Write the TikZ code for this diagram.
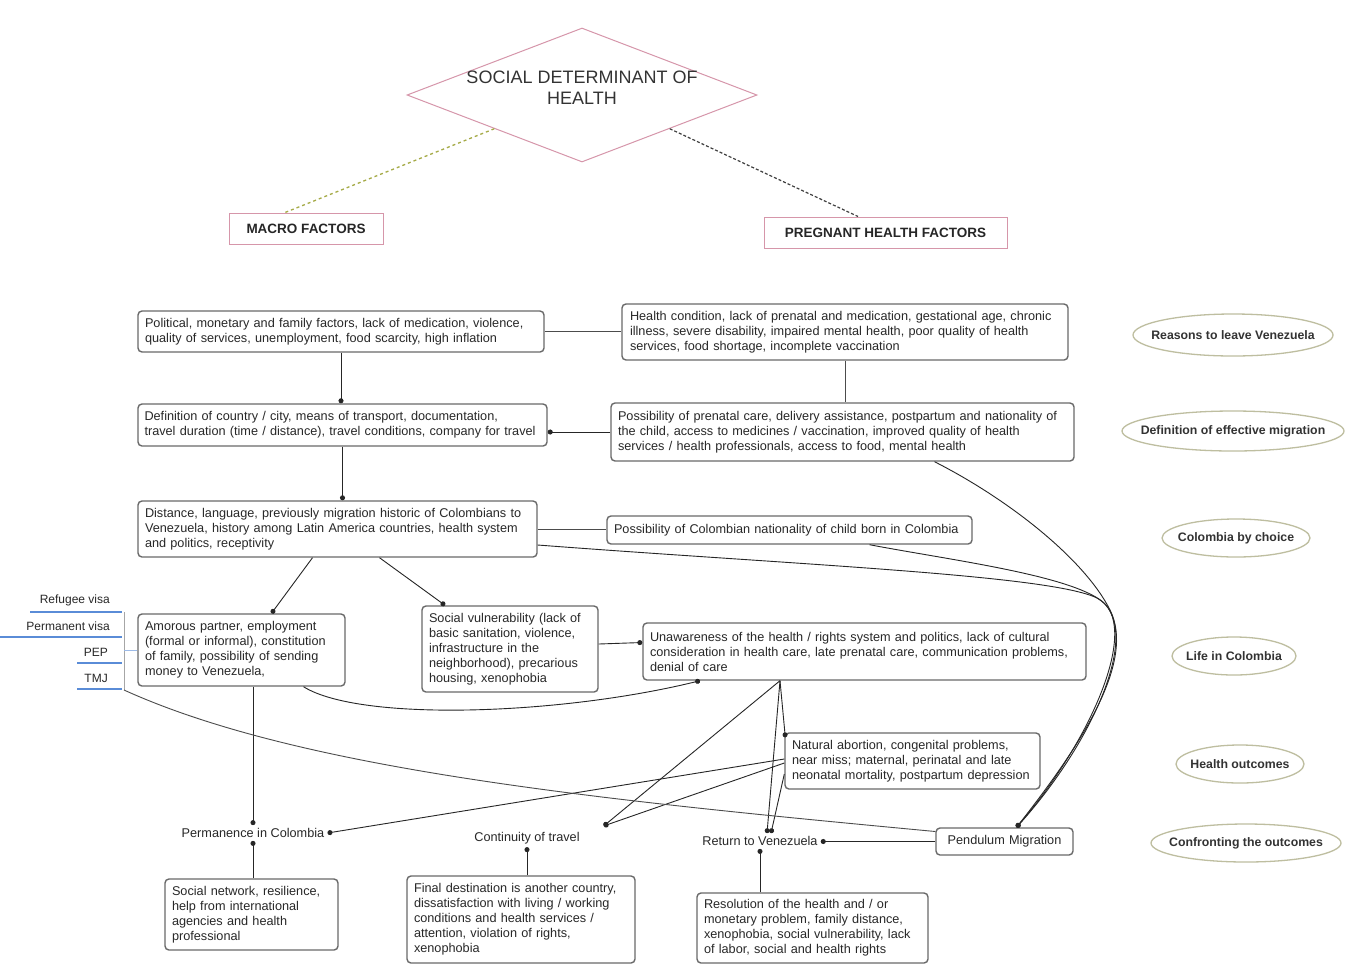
\documentclass[tikz,border=0pt]{standalone}
\usepackage{fontspec}
\setmainfont{Liberation Sans}
\usetikzlibrary{shapes.geometric,arrows.meta}
\definecolor{pinkb}{RGB}{214,150,170}
\definecolor{ellb}{RGB}{190,190,160}
\definecolor{boxb}{RGB}{105,105,105}
\definecolor{txt}{RGB}{40,40,40}
\definecolor{visab}{RGB}{90,140,215}
\definecolor{olivedash}{RGB}{165,170,70}
\begin{document}
\begin{tikzpicture}[x=1pt,y=-1pt,
  every node/.style={text=txt},
  rbox/.style={draw=boxb, line width=1.4pt, rounded corners=4pt, fill=white, align=left, inner sep=0pt, font=\fontsize{12.7}{15}\selectfont},
  hdr/.style={draw=pinkb, line width=1pt, inner sep=0pt, font=\bfseries\fontsize{13.5}{16}\selectfont, text=black!85},
  ell/.style={ellipse, draw=ellb, line width=1.3pt, inner sep=0pt},
  ellt/.style={font=\bfseries\fontsize{12.3}{14}\selectfont, text=black!80},
  outc/.style={font=\fontsize{12.7}{15}\selectfont, inner sep=3pt},
  visat/.style={font=\fontsize{12}{14}\selectfont, anchor=east, inner sep=0pt},
  arr/.style={-{Circle[length=5pt]}, line width=0.9pt, draw=black!85},
  ln/.style={line width=0.9pt, draw=black!70},
  visaline/.style={draw=visab, line width=1.2pt}
]
\fill[white] (0,0) rectangle (1346,967);
\useasboundingbox (0,0) rectangle (1346,967);

% top
\node[diamond, draw=pinkb, line width=1pt, minimum width=350pt, minimum height=134pt, inner sep=0pt, aspect=2.6,
  label={[name=Dt, align=center, font=\fontsize{18}{21}\selectfont, text=black!80, yshift=7pt]center:SOCIAL DETERMINANT OF\\HEALTH}] (D) at (582,95) {};
\node[hdr, minimum width=154pt, minimum height=31pt] (M) at (306,228.5) {MACRO FACTORS};
\node[hdr, minimum width=243pt, minimum height=31pt] (P) at (885.5,232.5) {PREGNANT HEALTH FACTORS};
\draw[olivedash, dashed, line width=1.3pt] (D.south west) -- ([xshift=-21pt]M.north);
\draw[black!75, densely dashed, line width=1.2pt] (D.south east) -- ([xshift=-27.5pt]P.north);

% boxes
\node[rbox, minimum width=406pt, minimum height=41pt, text width=392pt] (B1) at (341,331.5)
 {Political, monetary and family factors, lack of medication, violence,\\ quality of services, unemployment, food scarcity, high inflation};
\node[rbox, minimum width=446pt, minimum height=56pt, text width=430pt] (B2) at (845,332)
 {Health condition, lack of prenatal and medication, gestational age, chronic\\ illness, severe disability, impaired mental health, poor quality of health\\ services, food shortage, incomplete vaccination};
\node[rbox, minimum width=409pt, minimum height=42pt, text width=396pt] (B3) at (342.5,425)
 {Definition of country / city, means of transport, documentation,\\ travel duration (time / distance), travel conditions, company for travel};
\node[rbox, minimum width=463pt, minimum height=58pt, text width=449pt] (B4) at (842.5,432)
 {Possibility of prenatal care, delivery assistance, postpartum and nationality of\\ the child, access to medicines / vaccination, improved quality of health\\ services / health professionals, access to food, mental health};
\node[rbox, minimum width=399pt, minimum height=56pt, text width=385pt] (B5) at (337.5,529)
 {Distance, language, previously migration historic of Colombians to\\ Venezuela, history among Latin America countries, health system\\ and politics, receptivity};
\node[rbox, minimum width=365pt, minimum height=28pt, text width=351pt] (B6) at (789.5,530)
 {Possibility of Colombian nationality of child born in Colombia};
\node[rbox, minimum width=207pt, minimum height=72pt, text width=193pt] (B7) at (241.5,650)
 {Amorous partner, employment\\ (formal or informal), constitution\\ of family, possibility of sending\\ money to Venezuela,};
\node[rbox, minimum width=176pt, minimum height=86pt, text width=162pt] (B8) at (510,649)
 {Social vulnerability (lack of\\ basic sanitation, violence,\\ infrastructure in the\\ neighborhood), precarious\\ housing, xenophobia};
\node[rbox, minimum width=443pt, minimum height=57pt, text width=429pt] (B9) at (864.5,651.5)
 {Unawareness of the health / rights system and politics, lack of cultural\\ consideration in health care, late prenatal care, communication problems,\\ denial of care};
\node[rbox, minimum width=255pt, minimum height=56pt, text width=241pt] (B10) at (912.5,761)
 {Natural abortion, congenital problems,\\ near miss; maternal, perinatal and late\\ neonatal mortality, postpartum depression};
\node[rbox, minimum width=137pt, minimum height=27pt, text width=127pt, align=center] (Pend) at (1004.5,841.5)
 {Pendulum Migration};
\node[rbox, minimum width=173pt, minimum height=71pt, text width=159pt] (B11) at (251.5,914.5)
 {Social network, resilience,\\ help from international\\ agencies and health\\ professional};
\node[rbox, minimum width=228pt, minimum height=87pt, text width=214pt] (B12) at (521,919.5)
 {Final destination is another country,\\ dissatisfaction with living / working\\ conditions and health services /\\ attention, violation of rights,\\ xenophobia};
\node[rbox, minimum width=231pt, minimum height=70pt, text width=217pt] (B13) at (812.5,928)
 {Resolution of the health and / or\\ monetary problem, family distance,\\ xenophobia, social vulnerability, lack\\ of labor, social and health rights};

% outcome labels
\node[outc] (Perm) at (253,833) {Permanence in Colombia};
\node[outc] (Cont) at (527,838) {Continuity of travel};
\node[outc] (Ret) at (760,841) {Return to Venezuela};

% ellipses
\node[ell, minimum width=200pt, minimum height=42pt, label={[ellt]center:Reasons to leave Venezuela}] (E1) at (1233,335) {};
\node[ell, minimum width=222pt, minimum height=40pt, label={[ellt]center:Definition of effective migration}] (E2) at (1233,431) {};
\node[ell, minimum width=148pt, minimum height=38pt, label={[ellt]center:Colombia by choice}] (E3) at (1236,538) {};
\node[ell, minimum width=124pt, minimum height=38pt, label={[ellt]center:Life in Colombia}] (E4) at (1234,656) {};
\node[ell, minimum width=128pt, minimum height=38pt, label={[ellt]center:Health outcomes}] (E5) at (1240,764) {};
\node[ell, minimum width=190pt, minimum height=38pt, label={[ellt]center:Confronting the outcomes}] (E6) at (1246,843) {};

% visas
\node[visat] (VR) at (110,600) {Refugee visa};
\node[visat] (VP) at (110,626) {Permanent visa};
\node[visat] (VPEP) at (108,652) {PEP};
\node[visat] (VTMJ) at (108,678) {TMJ};
\draw[visaline] (30,612) -- (122,612);
\draw[visaline] (0,637) -- (122,637);
\draw[visaline] (77,663) -- (122,663);
\draw[visaline] (77,689) -- (122,689);
\draw[black!35, line width=0.8pt] (124,612) -- (124,690);
\coordinate (vb) at (124,690);
\coordinate (vm) at (124,650);
\draw[draw=visab!60, line width=1pt] (vm) -- (B7.west);

% connectors
\draw[arr] (B1.south) -- (B1.south |- B3.north);
\draw[ln] (B1.east) -- (B1.east -| B2.west);
\draw[ln] (B2.south) -- (B2.south |- B4.north);
\draw[arr] (B4.west) -- (B4.west -| B3.east);
\draw[arr] (B3.south) -- (B3.south |- B5.north);
\draw[ln] (B5.east) -- (B5.east -| B6.west);
\draw[arr] ([xshift=-25pt]B5.south) -- ([xshift=30pt]B7.north);
\draw[arr] ([xshift=42pt]B5.south) -- ([xshift=-65pt]B8.north);
\draw[arr] ([yshift=5pt]B8.east) -- ([yshift=9pt]B9.west);
\draw[arr] ([xshift=62pt]B7.south) .. controls (360,722) and (560,715) .. ([xshift=-164.5pt]B9.south);

\coordinate (h9) at ([xshift=-84.5pt]B9.south);
\coordinate (cT) at ([xshift=21pt,yshift=3pt]Cont.north east);
\draw[arr] (h9) -- ([xshift=1pt,yshift=-5pt]B10.north west);
\draw[arr] (h9) -- ([xshift=7pt]Ret.north);
\draw[arr] (h9) -- (cT);
\draw[arr] ([yshift=-2pt]B10.west) -- (cT);
\draw[arr] ([yshift=2pt]B10.west) -- (Perm.east);
\draw[arr] ([yshift=-13pt]B10.west) -- ([xshift=11pt]Ret.north);

\draw[arr] (B7.south -| Perm.north) -- (Perm.north);
\draw[arr] (B11.north -| Perm.south) -- (Perm.south);
\draw[arr] (B12.north -| Cont.south) -- (Cont.south);
\draw[arr] (B13.north -| Ret.south) -- (Ret.south);
\draw[arr] (Pend.west) -- (Pend.west -| Ret.east);

\draw[ln] (vb) .. controls (300,770) and (600,800) .. ([yshift=10pt]Pend.west);

\coordinate (pT) at ([xshift=12pt]Pend.north);
\draw[arr] ([xshift=92pt]B4.south) .. controls (1010,500) and (1085,560) .. (1110,610) .. controls (1135,660) and (1085,740) .. (pT);
\draw[arr] ([xshift=80pt]B6.south) .. controls (950,560) and (1070,575) .. (1103,602) .. controls (1138,632) and (1090,742) .. (pT);
\draw[arr] ([yshift=-16pt]B5.east) .. controls (800,565) and (1050,575) .. (1097,598) .. controls (1145,625) and (1095,740) .. (pT);
\end{tikzpicture}
\end{document}
